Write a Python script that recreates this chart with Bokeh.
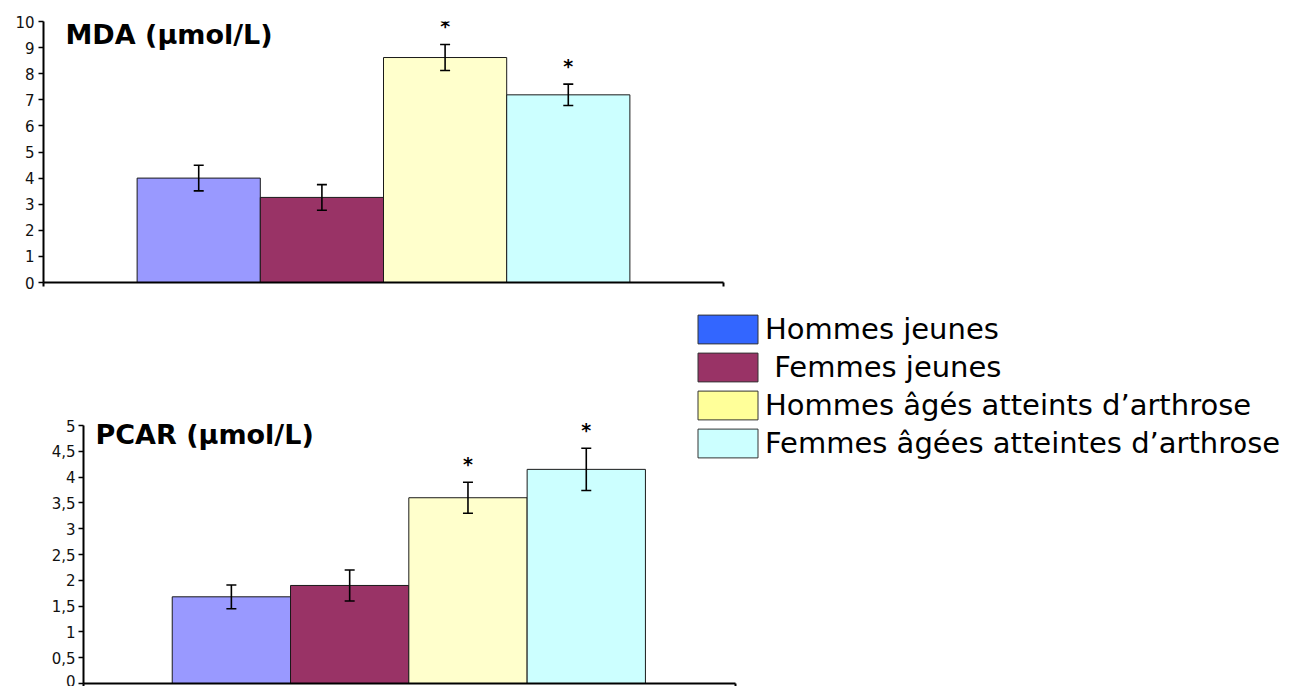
from bokeh.plotting import figure
from bokeh.models import (ColumnDataSource, Whisker, TeeHead, FixedTicker, Label,
                          Legend, LegendItem, Range1d)
from bokeh.core.properties import value
from bokeh.embed import file_html
from bokeh.resources import INLINE

# ---------------- data ----------------
groups = ["Hommes jeunes", "\u00a0Femmes jeunes",
          "Hommes âgés atteints d’arthrose", "Femmes âgées atteintes d’arthrose"]
bar_colors = ["#9999FF", "#993366", "#FFFFCC", "#CCFFFF"]
legend_colors = ["#3366FF", "#993366", "#FFFF99", "#CCFFFF"]

mda_title = "MDA (µmol/L)"
mda_values = [4.00, 3.26, 8.62, 7.19]
mda_errors = [0.49, 0.49, 0.50, 0.41]
mda_significant = [False, False, True, True]
mda_ticks = [0, 1, 2, 3, 4, 5, 6, 7, 8, 9, 10]
mda_tick_labels = ["0", "1", "2", "3", "4", "5", "6", "7", "8", "9", "10"]

pcar_title = "PCAR (µmol/L)"
pcar_values = [1.68, 1.90, 3.60, 4.15]
pcar_errors = [0.23, 0.30, 0.30, 0.41]
pcar_significant = [False, False, True, True]
pcar_ticks = [0, 0.5, 1, 1.5, 2, 2.5, 3, 3.5, 4, 4.5, 5]
pcar_tick_labels = ["0", "0,5", "1", "1,5", "2", "2,5", "3", "3,5", "4", "4,5", "5"]

FONT = "DejaVu Sans"


def make_chart(values, errors, significant, ticks, tick_labels, title,
               width, height, b_left, b_right, b_top, b_bottom,
               x_start, x_end, axis_x_end, y_end, title_xy, label_standoff, x_tick_out):
    n = len(values)
    xs = list(range(1, n + 1))
    p = figure(width=width, height=height, output_backend="svg", toolbar_location=None,
               x_range=Range1d(x_start, x_end), y_range=Range1d(0, y_end),
               min_border_left=b_left, min_border_right=b_right,
               min_border_top=b_top, min_border_bottom=b_bottom)
    p.outline_line_color = None
    p.xgrid.visible = False
    p.ygrid.visible = False
    p.background_fill_color = "white"
    p.border_fill_color = "white"

    src = ColumnDataSource(dict(
        x=xs, top=values, color=bar_colors[:n],
        upper=[v + e for v, e in zip(values, errors)],
        lower=[v - e for v, e in zip(values, errors)],
    ))
    p.vbar(x="x", top="top", bottom=0, width=1.0, fill_color="color",
           line_color="#1a1a1a", line_width=1, source=src)

    p.add_layout(Whisker(base="x", upper="upper", lower="lower", source=src, level="overlay",
                         line_color="black", line_width=1.6,
                         upper_head=TeeHead(size=10, line_color="black", line_width=1.6),
                         lower_head=TeeHead(size=10, line_color="black", line_width=1.6)))

    sx = [x for x, s in zip(xs, significant) if s]
    sy = [v + e for v, e, s in zip(values, errors, significant) if s]
    star_src = ColumnDataSource(dict(x=sx, y=sy, t=["*"] * len(sx)))
    p.text(x="x", y="y", text="t", source=star_src, text_align="center",
           text_baseline="alphabetic", y_offset=-18, text_font=value(FONT),
           text_font_style="bold", text_font_size="19px", text_color="black")

    xa = p.xaxis[0]
    xa.ticker = FixedTicker(ticks=[x_start, axis_x_end])
    xa.bounds = (x_start, axis_x_end)
    xa.major_label_overrides = {x_start: "", axis_x_end: ""}
    xa.major_label_text_font_size = "0px"
    xa.major_label_standoff = 0
    xa.major_tick_out = x_tick_out
    xa.major_tick_in = 0
    xa.minor_tick_line_color = None
    xa.axis_line_width = 2
    xa.axis_line_color = "black"
    xa.major_tick_line_width = 2
    xa.major_tick_line_color = "black"

    ya = p.yaxis[0]
    ya.ticker = FixedTicker(ticks=ticks)
    ya.major_label_overrides = {t: l for t, l in zip(ticks, tick_labels)}
    ya.bounds = (ticks[0], ticks[-1])
    ya.major_tick_out = 5
    ya.major_tick_in = 0
    ya.minor_tick_line_color = None
    ya.axis_line_width = 2
    ya.axis_line_color = "black"
    ya.major_tick_line_width = 1.5
    ya.major_tick_line_color = "black"
    ya.major_label_text_font = FONT
    ya.major_label_text_font_size = "15px"
    ya.major_label_text_color = "#111111"
    ya.major_label_standoff = label_standoff

    p.add_layout(Label(x=title_xy[0], y=title_xy[1], x_units="screen", y_units="screen",
                       text=title, text_font=FONT, text_font_style="bold",
                       text_font_size="27px", text_color="black",
                       text_baseline="alphabetic", text_align="left"))
    return p, xs


# top chart: page y 0..300
top, _ = make_chart(mda_values, mda_errors, mda_significant, mda_ticks, mda_tick_labels, mda_title,
                    width=1300, height=300, b_left=43, b_right=577, b_top=21, b_bottom=18,
                    x_start=-0.26, x_end=5.26, axis_x_end=5.26, y_end=10,
                    title_xy=(22, 248), label_standoff=4, x_tick_out=4)

# bottom chart: page y 300..686
bottom, bxs = make_chart(pcar_values, pcar_errors, pcar_significant, pcar_ticks, pcar_tick_labels,
                         pcar_title, width=1300, height=386, b_left=83, b_right=0, b_top=0, b_bottom=3,
                         x_start=-0.25, x_end=-0.25 + 1217 / 118.3, axis_x_end=5.26, y_end=383 / 51.6,
                         title_xy=(12, 249), label_standoff=3, x_tick_out=3)

# legend (placed in the bottom chart's frame, to the right of the bars)
legend_src = ColumnDataSource(dict(x=bxs, zero=[0] * len(bxs), color=legend_colors))
legend_r = bottom.vbar(x="x", top="zero", bottom="zero", width=1, fill_color="color",
                       line_color="#333333", line_width=1, source=legend_src)
legend = Legend(items=[LegendItem(label=g, renderers=[legend_r], index=i) for i, g in enumerate(groups)],
                location=(607, 222), glyph_width=75, glyph_height=36, label_height=36,
                label_standoff=-5, spacing=2, padding=0, margin=0,
                border_line_color=None, background_fill_alpha=0,
                label_text_font=FONT, label_text_font_size="29px", label_text_color="black")
bottom.add_layout(legend)

open("out.html", "w").write(file_html([top, bottom], INLINE))
